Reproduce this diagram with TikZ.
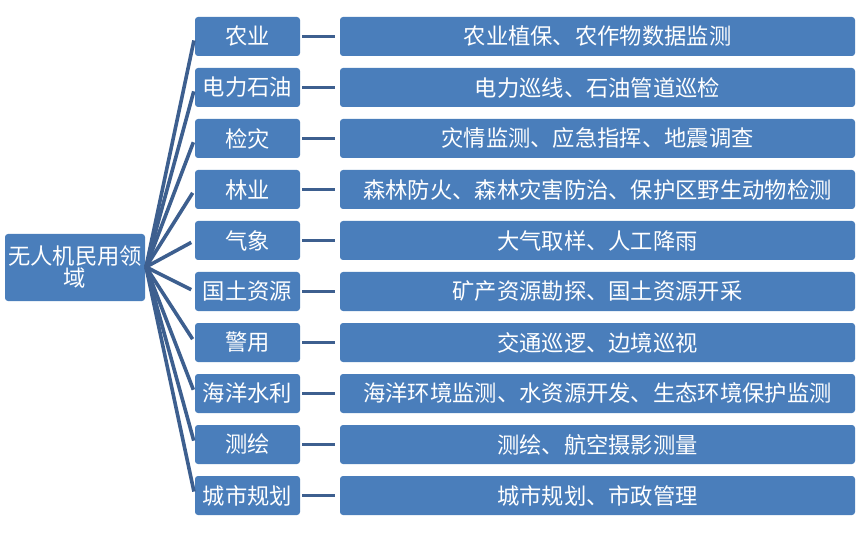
\documentclass[tikz,border=0pt]{standalone}
\usepackage{fontspec}
\setmainfont{Noto Sans CJK SC}
\definecolor{boxblue}{HTML}{4A7EBB}
\definecolor{lineblue}{HTML}{3D5F8F}
\begin{document}
\begin{tikzpicture}[x=1pt,y=-1pt,
  box/.style={fill=boxblue,draw=none,rounded corners=3pt,text=white,inner sep=0pt,
    font=\fontsize{22.3}{22}\selectfont},
  catbox/.style={box,minimum width=105pt,minimum height=39pt},
  descbox/.style={box,minimum width=515pt,minimum height=39pt},
  link/.style={draw=lineblue,line width=3.6pt}]
\useasboundingbox (0,0) rectangle (866,534);
\node[box,minimum width=140pt,minimum height=67pt,align=center] (root) at (75,267.5)
  {无人机民用领\\域};
\coordinate (hub) at (146,267);
\foreach \i/\a/\b in {
  0/农业/农业植保、农作物数据监测,
  1/电力石油/电力巡线、石油管道巡检,
  2/检灾/灾情监测、应急指挥、地震调查,
  3/林业/森林防火、森林灾害防治、保护区野生动物检测,
  4/气象/大气取样、人工降雨,
  5/国土资源/矿产资源勘探、国土资源开采,
  6/警用/交通巡逻、边境巡视,
  7/海洋水利/海洋环境监测、水资源开发、生态环境保护监测,
  8/测绘/测绘、航空摄影测量,
  9/城市规划/城市规划、市政管理}{
  \node[catbox] (m\i) at (247.5,{36.5+51*\i}) {\a};
  \node[descbox] (r\i) at (597.5,{36.5+51*\i}) {\b};
  \draw[link,shorten >=4pt] (hub) -- (m\i.west);
  \draw[link,shorten <=2pt,shorten >=5pt] (m\i.east) -- (r\i.west);
}
\end{tikzpicture}
\end{document}
